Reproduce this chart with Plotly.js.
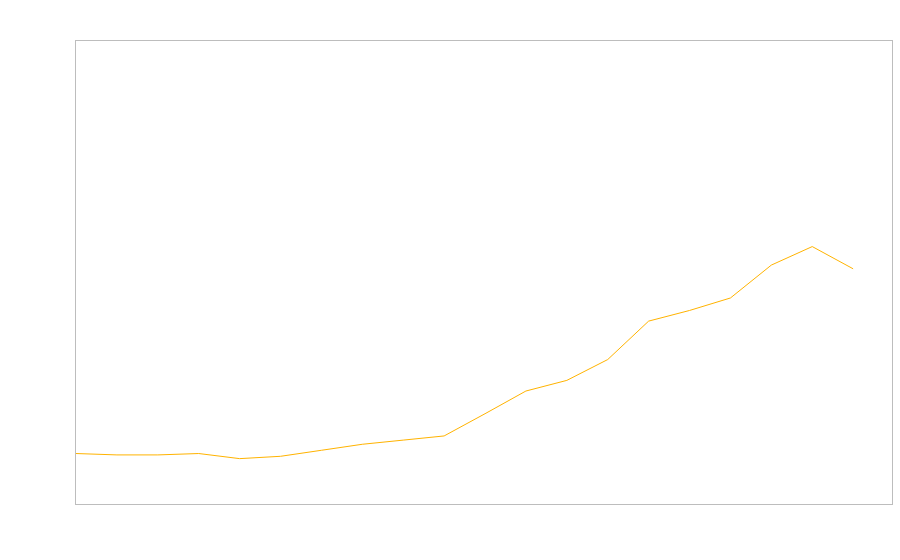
<!DOCTYPE html>
<html>
<head>
<meta charset="utf-8">
<script src="https://cdn.plot.ly/plotly-3.0.1.min.js"></script>
<style>html,body{margin:0;padding:0;background:#fff;}#chart{width:900px;height:560px;}</style>
</head>
<body>
<div id="chart"></div>
<script>
const years = [2000,2001,2002,2003,2004,2005,2006,2007,2008,2009,2010,2011,2012,2013,2014,2015,2016,2017,2018,2019];
const values = [10.9,10.6,10.6,10.9,9.8,10.3,11.6,12.9,13.8,14.7,19.5,24.4,26.7,31.2,39.5,41.8,44.5,51.6,55.6,50.8];

const trace = {
  x: years, y: values, type: 'scatter', mode: 'lines',
  line: {color: '#FFB300', width: 1},
  hoverinfo: 'x+y'
};
const axisCommon = {
  showgrid: false, zeroline: false, showticklabels: false, ticks: '',
  showline: true, mirror: true, linecolor: '#bdbdbd', linewidth: 1
};
const layout = {
  width: 900, height: 560,
  margin: {l: 76, r: 8, t: 41, b: 56},
  paper_bgcolor: '#ffffff', plot_bgcolor: '#ffffff',
  showlegend: false,
  xaxis: Object.assign({range: [2000, 2019.95]}, axisCommon),
  yaxis: Object.assign({range: [0, 100]}, axisCommon)
};
Plotly.newPlot('chart', [trace], layout, {displayModeBar: false, staticPlot: true});
</script>
</body>
</html>
